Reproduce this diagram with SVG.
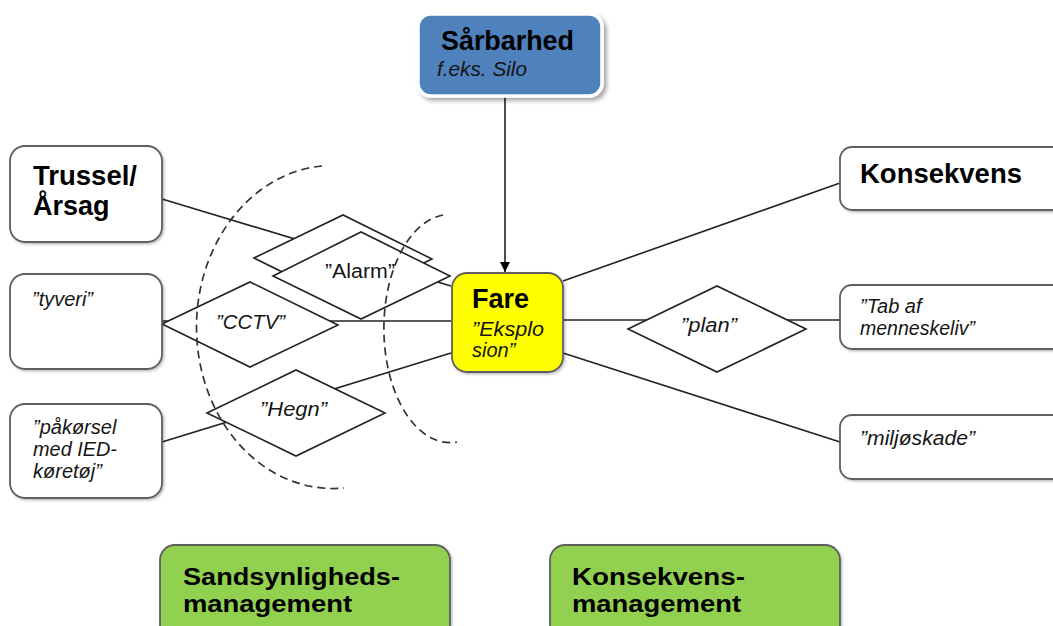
<svg xmlns="http://www.w3.org/2000/svg" width="1053" height="626" viewBox="0 0 1053 626">
  <defs>
    <filter id="sh" x="-10%" y="-10%" width="130%" height="130%">
      <feDropShadow dx="1.5" dy="1.5" stdDeviation="1" flood-color="#000" flood-opacity="0.25"/>
    </filter>
    <filter id="sh2" x="-10%" y="-10%" width="130%" height="130%">
      <feDropShadow dx="3" dy="3" stdDeviation="2" flood-color="#000" flood-opacity="0.35"/>
    </filter>
    <marker id="arr" markerWidth="12" markerHeight="12" refX="10" refY="5" orient="auto" markerUnits="userSpaceOnUse">
      <path d="M0,0 L10,5 L0,10 Z" fill="#000"/>
    </marker>
  </defs>
  <style>
    .box { fill: #fff; stroke: #5f5f5f; stroke-width: 1.8; filter: url(#sh); }
    .dia { fill: #fff; stroke: #222; stroke-width: 1.6; }
    .con { stroke: #222; stroke-width: 1.6; fill: none; }
    .arc { stroke: #333; stroke-width: 1.7; fill: none; stroke-dasharray: 8 5; }
    .b { font-family: "Liberation Sans", Arial, sans-serif; font-weight: bold; font-size: 27px; fill: #000; }
    .i { font-family: "Liberation Sans", Arial, sans-serif; font-style: italic; font-size: 20px; fill: #151515; }
    .r { font-family: "Liberation Sans", Arial, sans-serif; font-size: 20px; fill: #151515; }
    .g { font-family: "Liberation Sans", Arial, sans-serif; font-weight: bold; font-size: 23px; fill: #000; }
  </style>
  <rect width="1053" height="626" fill="#fff"/>

  <g id="connectors">
    <line class="con" x1="162" y1="199" x2="451" y2="286"/>
    <line class="con" x1="162" y1="321" x2="451" y2="321"/>
    <line class="con" x1="162" y1="442" x2="451" y2="353"/>
    <line class="con" x1="563" y1="281" x2="840" y2="183"/>
    <line class="con" x1="563" y1="320" x2="840" y2="320"/>
    <line class="con" x1="563" y1="353" x2="840" y2="442"/>
    <line class="con" x1="505" y1="97" x2="505" y2="272" marker-end="url(#arr)"/>
  </g>

  <g id="alarm-back">
    <polygon class="dia" points="254,258 343,215 432,259 343,302"/>
  </g>
  <g id="alarm">
    <polygon class="dia" points="273,276 361,232 450,276 361,319"/>
    <text class="r" x="325" y="278" textLength="70" lengthAdjust="spacingAndGlyphs">”Alarm”</text>
  </g>
  <g id="cctv">
    <polygon class="dia" points="162,324 250,282 338,325 250,367"/>
    <text class="i" x="216" y="329" textLength="69" lengthAdjust="spacingAndGlyphs">”CCTV”</text>
  </g>
  <g id="hegn">
    <polygon class="dia" points="207,413 296,370 385,413 296,456"/>
    <text class="i" x="260" y="416" textLength="67" lengthAdjust="spacingAndGlyphs">”Hegn”</text>
  </g>
  <g id="plan">
    <polygon class="dia" points="628,329 717,286 806,329 717,372"/>
    <text class="i" x="681" y="332" textLength="56" lengthAdjust="spacingAndGlyphs">”plan”</text>
  </g>

  <g id="barriers-arcs">
    <path class="arc" d="M322,166 A136,161 0 1 0 344,488"/>
    <path class="arc" d="M443,215 A66,114 0 1 0 457,442"/>
  </g>

  <g id="saarbarhed">
    <rect x="418" y="14" width="184" height="82" rx="13" fill="#4f81bd" stroke="#fff" stroke-width="3.5" filter="url(#sh2)"/>
    <text class="b" x="441" y="50" textLength="133" lengthAdjust="spacingAndGlyphs">Sårbarhed</text>
    <text class="i" x="437" y="76" textLength="90" lengthAdjust="spacingAndGlyphs">f.eks. Silo</text>
  </g>

  <g id="fare">
    <rect x="452" y="273" width="111" height="99" rx="15" fill="#ffff00" stroke="#5f5f5f" stroke-width="1.8" filter="url(#sh)"/>
    <text class="b" x="472" y="308">Fare</text>
    <text class="i" x="472" y="336" textLength="72" lengthAdjust="spacingAndGlyphs">”Eksplo</text>
    <text class="i" x="472" y="357">sion”</text>
  </g>

  <g id="trussel">
    <rect class="box" x="10" y="146" width="152" height="96" rx="15"/>
    <text class="b" x="33" y="185" textLength="104" lengthAdjust="spacingAndGlyphs">Trussel/</text>
    <text class="b" x="33" y="215">Årsag</text>
  </g>
  <g id="tyveri">
    <rect class="box" x="10" y="274" width="152" height="95" rx="15"/>
    <text class="i" x="32" y="306" textLength="61" lengthAdjust="spacingAndGlyphs">”tyveri”</text>
  </g>
  <g id="paakoersel">
    <rect class="box" x="10" y="404" width="152" height="94" rx="15"/>
    <text class="i" x="33" y="434">”påkørsel</text>
    <text class="i" x="33" y="456" textLength="84" lengthAdjust="spacingAndGlyphs">med IED-</text>
    <text class="i" x="33" y="478">køretøj”</text>
  </g>

  <g id="konsekvens">
    <rect class="box" x="840" y="147" width="230" height="63" rx="12"/>
    <text class="b" x="860" y="183" textLength="162" lengthAdjust="spacingAndGlyphs">Konsekvens</text>
  </g>
  <g id="tab-af-menneskeliv">
    <rect class="box" x="840" y="285" width="230" height="64" rx="12"/>
    <text class="i" x="860" y="313">”Tab af</text>
    <text class="i" x="860" y="335" textLength="115" lengthAdjust="spacingAndGlyphs">menneskeliv”</text>
  </g>
  <g id="miljoeskade">
    <rect class="box" x="840" y="415" width="230" height="64" rx="12"/>
    <text class="i" x="860" y="445" textLength="115" lengthAdjust="spacingAndGlyphs">”miljøskade”</text>
  </g>

  <g id="sandsynligheds-management">
    <rect x="160" y="545" width="290" height="95" rx="15" fill="#92d050" stroke="#5f5f5f" stroke-width="1.8" filter="url(#sh)"/>
    <text class="g" x="183" y="585" textLength="217" lengthAdjust="spacingAndGlyphs">Sandsynligheds-</text>
    <text class="g" x="183" y="612" textLength="169" lengthAdjust="spacingAndGlyphs">management</text>
  </g>
  <g id="konsekvens-management">
    <rect x="550" y="545" width="290" height="95" rx="15" fill="#92d050" stroke="#5f5f5f" stroke-width="1.8" filter="url(#sh)"/>
    <text class="g" x="572" y="585" textLength="173" lengthAdjust="spacingAndGlyphs">Konsekvens-</text>
    <text class="g" x="572" y="612" textLength="169" lengthAdjust="spacingAndGlyphs">management</text>
  </g>
</svg>
